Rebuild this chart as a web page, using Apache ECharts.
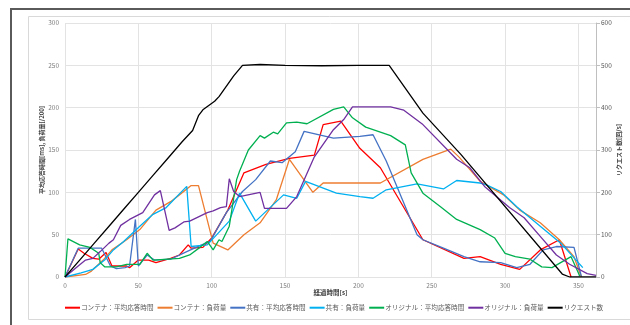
<!DOCTYPE html>
<html>
<head>
<meta charset="utf-8">
<script src="https://cdn.jsdelivr.net/npm/echarts@6/dist/echarts.min.js"></script>
<style>
  html, body { margin: 0; padding: 0; background: #fff; }
  #chart { width: 630px; height: 325px; }
</style>
</head>
<body>
<div id="chart"></div>
<script>
// Elapsed time [s] vs. response time / load (left) and request rate (right)
const seriesNames = [
  'コンテナ：平均応答時間',
  'コンテナ：負荷量',
  '共有：平均応答時間',
  '共有：負荷量',
  'オリジナル：平均応答時間',
  'オリジナル：負荷量',
  'リクエスト数'
];

const xTicks = [0, 50, 100, 150, 200, 250, 300, 350];
const leftTicks = [0, 50, 100, 150, 200, 250, 300];
const rightTicks = [0, 100, 200, 300, 400, 500, 600];

// [time s, value]
const containerResp = [[0,0],[9,33],[13,28],[19,22],[23,21],[28,29],[32,13],[42,13],[44,11],[50,20],[57,20],[62,17],[72,22],[78,26],[84,38],[86,34],[94,35],[100,46],[111,79],[122,123],[137,133],[153,140],[170,144],[176,180],[188,184],[201,152],[215,129],[244,44],[272,22],[283,24],[297,15],[310,9],[324,32],[337,44],[345,0]];
const containerLoad = [[0,0],[14,3],[18,7],[26,20],[32,32],[42,44],[51,56],[62,79],[72,89],[78,97],[86,108],[91,108],[101,40],[111,32],[122,50],[133,64],[144,91],[153,139],[169,100],[176,111],[215,111],[244,139],[263,151],[269,141],[283,113],[299,97],[310,79],[324,64],[337,44],[347,24],[352,0]];
const sharedResp = [[0,0],[9,34],[25,34],[31,13],[35,10],[41,11],[44,13],[48,68],[50,13],[56,26],[61,20],[72,21],[83,30],[92,37],[99,42],[110,76],[121,101],[130,115],[140,137],[148,135],[157,148],[163,172],[183,164],[201,166],[210,168],[219,137],[240,50],[244,44],[258,34],[272,24],[283,18],[297,17],[308,11],[317,15],[326,32],[335,36],[347,35],[352,1]];
const sharedLoad = [[0,0],[11,5],[19,9],[27,20],[33,32],[40,42],[51,60],[60,74],[69,82],[83,107],[86,36],[97,38],[112,66],[119,99],[130,66],[149,97],[158,93],[164,113],[185,99],[201,95],[210,93],[219,103],[240,110],[258,104],[267,114],[283,111],[287,109],[297,101],[308,83],[324,60],[338,40],[353,11]];
const originalResp = [[0,0],[2,45],[10,38],[17,35],[23,28],[24,17],[27,12],[35,12],[42,15],[51,15],[56,28],[60,20],[78,22],[85,26],[92,35],[97,42],[101,32],[105,44],[107,42],[112,60],[117,115],[119,125],[125,150],[133,167],[136,164],[142,171],[145,169],[151,182],[158,183],[165,181],[183,198],[190,201],[196,188],[205,177],[222,167],[232,156],[236,123],[244,99],[256,83],[267,68],[283,56],[293,46],[300,28],[307,24],[317,21],[325,12],[332,11],[345,24],[351,1]];
const originalLoad = [[0,0],[9,13],[14,20],[19,22],[24,30],[30,40],[33,44],[38,61],[44,68],[53,76],[61,97],[65,102],[71,55],[75,58],[81,65],[85,66],[97,76],[101,78],[106,82],[110,83],[112,116],[115,101],[119,95],[133,100],[136,81],[151,81],[158,95],[170,142],[183,174],[190,186],[196,201],[222,201],[231,197],[244,180],[267,139],[276,129],[286,107],[303,82],[313,70],[324,48],[335,26],[344,15],[356,4],[362,2]];
const requests = [[0,0],[10,40],[20,80],[30,120],[40,160],[50,200],[60,240],[70,280],[80,320],[87,346],[91,381],[94,395],[102,415],[105,426],[115,475],[121,500],[133,502],[150,500],[175,499],[200,500],[221,500],[244,387],[270,289],[339,7],[344,0],[362,0]];

const seriesData = [containerResp, containerLoad, sharedResp, sharedLoad, originalResp, originalLoad, requests];
const seriesColors = ['#FF0000', '#ED7D31', '#4472C4', '#00B0F0', '#00B050', '#7030A0', '#000000'];

const chart = echarts.init(document.getElementById('chart'), null, { renderer: 'canvas' });
const font = '"Noto Sans CJK JP", "Noto Sans", sans-serif';
const gridColor = '#E3E3E3';
const labelColor = '#7F7F7F';

chart.setOption({
  animation: false,
  textStyle: { fontFamily: font },
  graphic: [
    { type: 'rect', shape: { x: 11, y: 9, width: 640, height: 340 }, style: { fill: 'none', stroke: '#5A5A5A', lineWidth: 2 }, z: 0 },
    { type: 'rect', shape: { x: 28.5, y: 16.5, width: 620, height: 303 }, style: { fill: 'none', stroke: '#D9D9D9', lineWidth: 1 }, z: 0 }
  ],
  grid: { left: 65, right: 34, top: 23, bottom: 48 },
  legend: {
    data: seriesNames,
    bottom: 9,
    left: 60,
    icon: 'rect',
    itemWidth: 15,
    itemHeight: 2,
    itemGap: 4,
    textStyle: { fontSize: 6.6, color: '#595959', fontFamily: font, padding: [0, 0, 0, -4] }
  },
  xAxis: {
    type: 'value',
    min: 0,
    max: 362,
    interval: 50,
    name: '経過時間[s]',
    nameLocation: 'middle',
    nameGap: 12,
    nameMoveOverlap: false,
    nameTextStyle: { fontSize: 6.5, fontWeight: 'bold', color: '#404040', fontFamily: font },
    axisLine: { show: true, lineStyle: { color: gridColor } },
    axisTick: { show: false },
    axisLabel: {
      fontSize: 6.5, color: labelColor, margin: 5,
      formatter: v => (xTicks.indexOf(v) >= 0 ? String(v) : '')
    },
    splitLine: { show: true, lineStyle: { color: gridColor, width: 1 } }
  },
  yAxis: [
    {
      type: 'value',
      min: 0,
      max: 300,
      interval: 50,
      name: '平均応答時間[ms], 負荷量[/200]',
      nameLocation: 'middle',
      nameGap: 20,
      nameMoveOverlap: false,
      nameTextStyle: { fontSize: 6, fontWeight: 'bold', color: '#404040', fontFamily: font },
      axisLine: { show: false },
      axisTick: { show: false },
      axisLabel: {
        fontSize: 6.5, color: labelColor, margin: 6,
        formatter: v => (leftTicks.indexOf(v) >= 0 ? String(v) : '')
      },
      splitLine: { show: true, lineStyle: { color: gridColor, width: 1 } }
    },
    {
      type: 'value',
      min: 0,
      max: 600,
      interval: 100,
      position: 'right',
      name: 'リクエスト数[回/s]',
      nameLocation: 'middle',
      nameGap: 20,
      nameMoveOverlap: false,
      nameTextStyle: { fontSize: 6, fontWeight: 'bold', color: '#404040', fontFamily: font },
      axisLine: { show: true, lineStyle: { color: '#BFBFBF' } },
      axisTick: { show: true, length: 4, lineStyle: { color: '#BFBFBF' } },
      axisLabel: {
        fontSize: 6.5, color: '#595959', margin: 5,
        formatter: v => (rightTicks.indexOf(v) >= 0 ? String(v) : '')
      },
      splitLine: { show: false }
    }
  ],
  series: seriesNames.map((name, i) => ({
    name: name,
    type: 'line',
    yAxisIndex: i === 6 ? 1 : 0,
    data: seriesData[i],
    showSymbol: false,
    symbol: 'none',
    smooth: false,
    color: seriesColors[i],
    lineStyle: { width: 1.3, color: seriesColors[i] },
    z: i === 6 ? 3 : 2
  }))
});
</script>
</body>
</html>
